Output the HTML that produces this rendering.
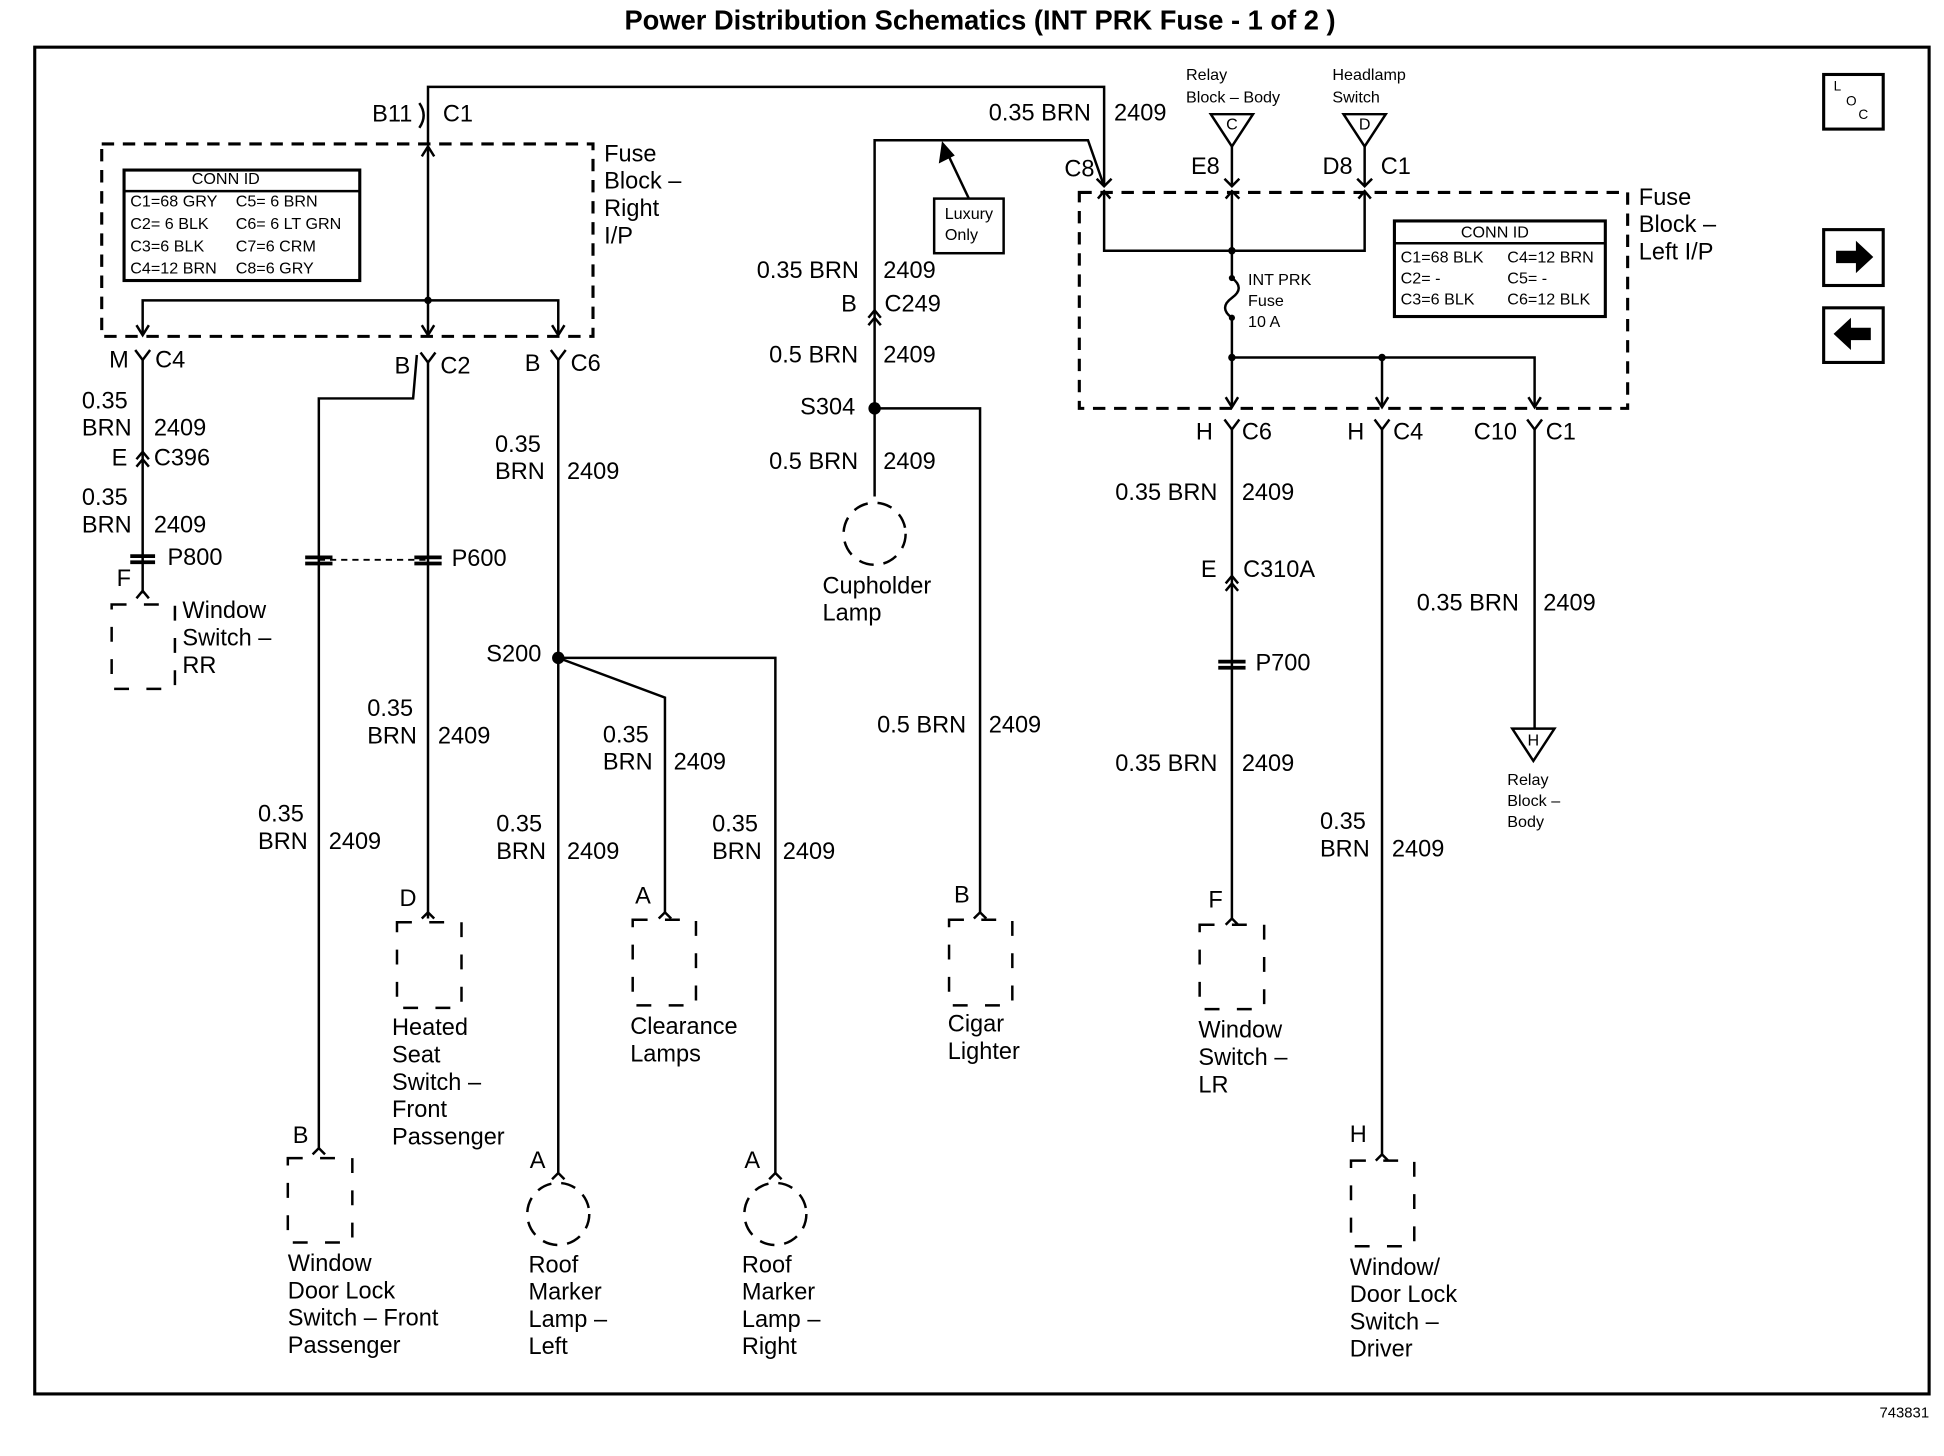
<!DOCTYPE html>
<html><head><meta charset="utf-8"><style>
html,body{margin:0;padding:0;background:#fff;}
svg{display:block;}
text{font-family:"Liberation Sans",sans-serif;fill:#000;}
</style></head><body>
<svg width="1944" height="1456" viewBox="0 0 1567 1173" preserveAspectRatio="none" xmlns="http://www.w3.org/2000/svg">
<g font-size="19" dominant-baseline="middle">
<text x="790" y="18" text-anchor="middle" font-size="22" font-weight="bold">Power Distribution Schematics (INT PRK Fuse - 1 of 2 )</text>
<rect x="28" y="38" width="1527" height="1085" fill="none" stroke="#000" stroke-width="2.5"/>
<text x="1555" y="1139" text-anchor="end" font-size="12">743831</text>
<!-- side icons -->
<rect x="1470" y="60" width="48" height="44" fill="none" stroke="#000" stroke-width="2.5"/>
<text x="1478" y="70" font-size="11">L</text><text x="1488" y="82" font-size="11">O</text><text x="1498" y="93" font-size="11">C</text>
<rect x="1470" y="185" width="48" height="45" fill="none" stroke="#000" stroke-width="2.5"/>
<path d="M1480 202 h16 v-8 l14 13 l-14 13 v-8 h-16z" fill="#000"/>
<rect x="1470" y="248" width="48" height="44" fill="none" stroke="#000" stroke-width="2.5"/>
<path d="M1508 264 h-16 v-8 l-14 13 l14 13 v-8 h16z" fill="#000"/>

<g stroke="#000" stroke-width="2" fill="none">
<rect x="82" y="116" width="396" height="155" stroke-dasharray="10,7" stroke-width="2.5"/>
<rect x="100" y="137" width="190" height="89" stroke-width="2.5"/>
<line x1="100" y1="154" x2="290" y2="154"/>
<polyline points="345,116 345,70 890,70 890,150"/>
<path d="M338 83 Q345 93 338 103"/>
<line x1="345" y1="118" x2="345" y2="242"/>
<path d="M340 126 L345 118 L350 126"/>
<polyline points="115,270 115,242 450,242 450,270"/>
<line x1="345" y1="242" x2="345" y2="270"/>
<path d="M110 262 L115 270 L120 262 M340 262 L345 270 L350 262 M445 262 L450 270 L455 262"/>
<path d="M109 282 L115 290 L121 282"/><line x1="115" y1="290" x2="115" y2="478"/>
<path d="M110 370 L115 364 L120 370 M110 376 L115 370 L120 376"/>
<path d="M105 448 h20 M105 453 h20" stroke-width="3"/>
<path d="M110 482 L115 476 L120 482"/>
<rect x="90" y="487" width="51" height="68" stroke-dasharray="12,14"/>
<path d="M339 284 L345 292 L351 284"/><line x1="345" y1="292" x2="345" y2="740"/>
<polyline points="336,286 333,321 257,321 257,925"/>
<line x1="257" y1="451" x2="345" y2="451" stroke-dasharray="5,4" stroke-width="1.5"/>
<path d="M246 449 h22 M246 454 h22 M334 449 h22 M334 454 h22" stroke-width="3"/>
<path d="M340 740 L345 735 L350 740 M252 930 L257 925 L262 930"/>
<rect x="320" y="743" width="52" height="69" stroke-dasharray="12,14"/>
<rect x="232" y="933" width="52" height="68" stroke-dasharray="12,14"/>
<path d="M444 282 L450 290 L456 282"/><line x1="450" y1="290" x2="450" y2="945"/>
<polyline points="450,530 625,530 625,945"/>
<polyline points="450,530 536,562 536,735"/>
<path d="M445 950 L450 945 L455 950 M620 950 L625 945 L630 950 M531 740 L536 735 L541 740"/>
<rect x="510" y="741" width="51" height="69" stroke-dasharray="12,14"/>
<circle cx="450" cy="978" r="25" stroke-dasharray="12,8"/>
<circle cx="625" cy="978" r="25" stroke-dasharray="12,8"/>
<polyline points="705,400 705,113 877,113 890,150"/>
<path d="M700 256 L705 250 L710 256 M700 262 L705 256 L710 262"/>
<polyline points="705,329 790,329 790,735"/>
<path d="M785 740 L790 735 L795 740"/>
<circle cx="705" cy="430" r="25" stroke-dasharray="12,8"/>
<rect x="765" y="741" width="51" height="69" stroke-dasharray="12,14"/>
<rect x="753" y="160" width="56" height="44" stroke-width="2"/>
<line x1="781" y1="160" x2="762" y2="120"/>
<path d="M760 116 L758 130 L768 125z" fill="#000"/>
<rect x="870" y="155" width="442" height="174" stroke-dasharray="10,7" stroke-width="2.5"/>
<rect x="1124" y="178" width="170" height="77" stroke-width="2.5"/>
<line x1="1124" y1="196" x2="1294" y2="196"/>
<path d="M884 144 L890 150 L896 144 M987 144 L993 150 L999 144 M1094 144 L1100 150 L1106 144"/>
<path d="M885 160 L890 154 L895 160 M988 160 L993 154 L999 160 M1095 160 L1100 154 L1105 160"/>
<polyline points="890,154 890,202 1100,202 1100,154"/>
<line x1="993" y1="118" x2="993" y2="150"/><line x1="1100" y1="118" x2="1100" y2="150"/>
<line x1="993" y1="154" x2="993" y2="224"/>
<path d="M993 224 Q1004 232 993 240 Q982 248 993 256"/>
<line x1="993" y1="256" x2="993" y2="328"/>
<polyline points="993,288 1237,288 1237,328"/>
<line x1="1114" y1="288" x2="1114" y2="328"/>
<path d="M988 320 L993 328 L998 320 M1109 320 L1114 328 L1119 320 M1232 320 L1237 328 L1242 320"/>
<path d="M976 92 L1010 92 L993 118z M1083 92 L1117 92 L1100 118z"/>
<path d="M987 338 L993 346 L999 338"/><line x1="993" y1="346" x2="993" y2="740"/>
<path d="M988 470 L993 464 L998 470 M988 476 L993 470 L998 476"/>
<path d="M982 533 h22 M982 538 h22" stroke-width="3"/>
<path d="M988 745 L993 740 L998 745"/>
<rect x="967" y="745" width="52" height="68" stroke-dasharray="12,14"/>
<path d="M1108 338 L1114 346 L1120 338"/><line x1="1114" y1="346" x2="1114" y2="930"/>
<path d="M1109 935 L1114 930 L1119 935"/>
<rect x="1089" y="935" width="51" height="69" stroke-dasharray="12,14"/>
<path d="M1231 338 L1237 346 L1243 338"/><line x1="1237" y1="346" x2="1237" y2="587"/>
<path d="M1219 587 L1253 587 L1236 613z"/>
</g>
<g fill="#000">
<circle cx="345" cy="242" r="3"/><circle cx="450" cy="530" r="5"/><circle cx="705" cy="329" r="5"/>
<circle cx="993" cy="202" r="3"/><circle cx="993" cy="288" r="3"/><circle cx="1114" cy="288" r="3"/>
<circle cx="993" cy="224" r="2.5"/><circle cx="993" cy="256" r="2.5"/>
</g>

<g font-size="13">
<text x="182" y="145" text-anchor="middle">CONN ID</text>
<text x="105" y="163">C1=68 GRY</text><text x="190" y="163">C5= 6 BRN</text>
<text x="105" y="181">C2= 6 BLK</text><text x="190" y="181">C6= 6 LT GRN</text>
<text x="105" y="199">C3=6 BLK</text><text x="190" y="199">C7=6 CRM</text>
<text x="105" y="217">C4=12 BRN</text><text x="190" y="217">C8=6 GRY</text>
<text x="1205" y="188" text-anchor="middle">CONN ID</text>
<text x="1129" y="208">C1=68 BLK</text><text x="1215" y="208">C4=12 BRN</text>
<text x="1129" y="225">C2=  -</text><text x="1215" y="225">C5=  -</text>
<text x="1129" y="242">C3=6 BLK</text><text x="1215" y="242">C6=12 BLK</text>
<text x="781" y="173" text-anchor="middle">Luxury</text><text x="775" y="190" text-anchor="middle">Only</text>
<text x="1006" y="226">INT PRK</text><text x="1006" y="243">Fuse</text><text x="1006" y="260">10 A</text>
<text x="956" y="61">Relay</text><text x="956" y="79">Block – Body</text>
<text x="1074" y="61">Headlamp</text><text x="1074" y="79">Switch</text>
<text x="1215" y="629">Relay</text><text x="1215" y="646">Block –</text><text x="1215" y="663">Body</text>
<text x="993" y="101" text-anchor="middle">C</text><text x="1100" y="101" text-anchor="middle">D</text><text x="1236" y="597" text-anchor="middle">H</text>
</g>
<text x="300" y="93">B11</text><text x="357" y="93">C1</text>
<text x="487" y="125">Fuse</text><text x="487" y="147">Block –</text><text x="487" y="169">Right</text><text x="487" y="191">I/P</text>
<text x="797" y="92">0.35 BRN</text><text x="898" y="92">2409</text>
<text x="88" y="291">M</text><text x="125" y="291">C4</text>
<text x="66" y="324">0.35</text><text x="66" y="346">BRN</text><text x="124" y="346">2409</text>
<text x="90" y="370">E</text><text x="124" y="370">C396</text>
<text x="66" y="402">0.35</text><text x="66" y="424">BRN</text><text x="124" y="424">2409</text>
<text x="135" y="450">P800</text><text x="94" y="467">F</text>
<text x="147" y="493">Window</text><text x="147" y="515">Switch –</text><text x="147" y="537">RR</text>
<text x="318" y="296">B</text><text x="355" y="296">C2</text>
<text x="423" y="294">B</text><text x="460" y="294">C6</text>
<text x="364" y="451">P600</text>
<text x="399" y="359">0.35</text><text x="399" y="381">BRN</text><text x="457" y="381">2409</text>
<text x="392" y="528">S200</text>
<text x="296" y="572">0.35</text><text x="296" y="594">BRN</text><text x="353" y="594">2409</text>
<text x="486" y="593">0.35</text><text x="486" y="615">BRN</text><text x="543" y="615">2409</text>
<text x="208" y="657">0.35</text><text x="208" y="679">BRN</text><text x="265" y="679">2409</text>
<text x="400" y="665">0.35</text><text x="400" y="687">BRN</text><text x="457" y="687">2409</text>
<text x="574" y="665">0.35</text><text x="574" y="687">BRN</text><text x="631" y="687">2409</text>
<text x="322" y="725">D</text><text x="512" y="723">A</text>
<text x="316" y="829">Heated</text><text x="316" y="851">Seat</text><text x="316" y="873">Switch –</text><text x="316" y="895">Front</text><text x="316" y="917">Passenger</text>
<text x="508" y="828">Clearance</text><text x="508" y="850">Lamps</text>
<text x="236" y="916">B</text><text x="427" y="936">A</text><text x="600" y="936">A</text>
<text x="232" y="1019">Window</text><text x="232" y="1041">Door Lock</text><text x="232" y="1063">Switch – Front</text><text x="232" y="1085">Passenger</text>
<text x="426" y="1020">Roof</text><text x="426" y="1042">Marker</text><text x="426" y="1064">Lamp –</text><text x="426" y="1086">Left</text>
<text x="598" y="1020">Roof</text><text x="598" y="1042">Marker</text><text x="598" y="1064">Lamp –</text><text x="598" y="1086">Right</text>
<text x="610" y="219">0.35 BRN</text><text x="712" y="219">2409</text>
<text x="678" y="246">B</text><text x="713" y="246">C249</text>
<text x="620" y="287">0.5 BRN</text><text x="712" y="287">2409</text>
<text x="645" y="329">S304</text>
<text x="620" y="373">0.5 BRN</text><text x="712" y="373">2409</text>
<text x="663" y="473">Cupholder</text><text x="663" y="495">Lamp</text>
<text x="707" y="585">0.5 BRN</text><text x="797" y="585">2409</text>
<text x="769" y="722">B</text><text x="764" y="826">Cigar</text><text x="764" y="848">Lighter</text>
<text x="858" y="137">C8</text><text x="960" y="135">E8</text><text x="1066" y="135">D8</text><text x="1113" y="135">C1</text>
<text x="1321" y="160">Fuse</text><text x="1321" y="182">Block –</text><text x="1321" y="204">Left I/P</text>
<text x="964" y="349">H</text><text x="1001" y="349">C6</text><text x="1086" y="349">H</text><text x="1123" y="349">C4</text>
<text x="1188" y="349">C10</text><text x="1246" y="349">C1</text>
<text x="899" y="398">0.35 BRN</text><text x="1001" y="398">2409</text>
<text x="968" y="460">E</text><text x="1002" y="460">C310A</text>
<text x="1012" y="535">P700</text>
<text x="1142" y="487">0.35 BRN</text><text x="1244" y="487">2409</text>
<text x="899" y="616">0.35 BRN</text><text x="1001" y="616">2409</text>
<text x="974" y="726">F</text>
<text x="966" y="831">Window</text><text x="966" y="853">Switch –</text><text x="966" y="875">LR</text>
<text x="1064" y="663">0.35</text><text x="1064" y="685">BRN</text><text x="1122" y="685">2409</text>
<text x="1088" y="915">H</text>
<text x="1088" y="1022">Window/</text><text x="1088" y="1044">Door Lock</text><text x="1088" y="1066">Switch –</text><text x="1088" y="1088">Driver</text>
</g>
</svg>
</body></html>
